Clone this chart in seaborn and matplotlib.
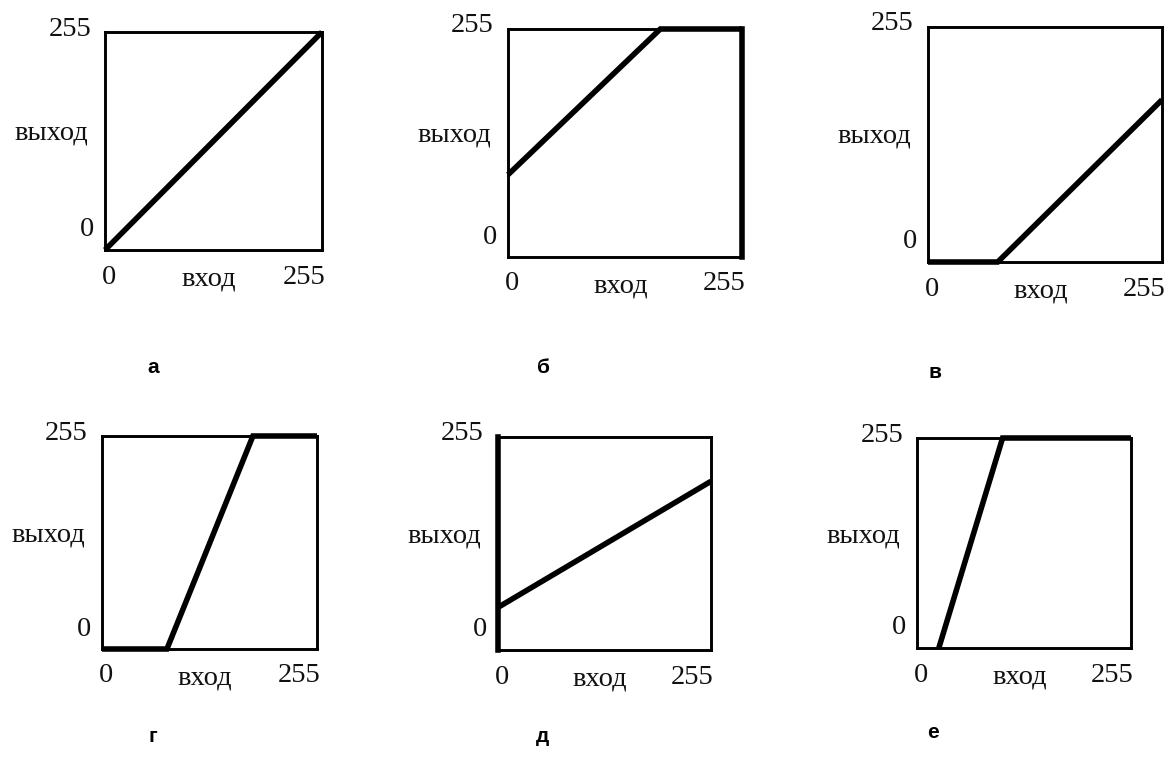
import matplotlib
matplotlib.use("Agg")
import matplotlib.pyplot as plt
import matplotlib.transforms as mtransforms
import seaborn as sns

# Panel captions
panel_labels = ["а", "б", "в", "г", "д", "е"]

# Brightness transfer curves: input level -> output level
curve_x = [
    [0, 255],
    [0, 166, 255],
    [0, 76, 255],
    [0, 77, 179, 255],
    [0, 255],
    [26, 102, 255],
]
curve_y = [
    [0, 255],
    [92, 255, 255],
    [0, 0, 176],
    [0, 0, 255, 255],
    [51, 202],
    [0, 255, 255],
]

# Axis captions and limit labels
axis_min_label = "0"
axis_max_label = "255"
x_caption = "вход"
y_caption = "выход"
axis_limits = (0, 255)

sns.set_theme(style="white")
plt.rcParams["font.family"] = ["Liberation Serif", "DejaVu Serif"]

W, H = 1170, 770
fig = plt.figure(figsize=(W / 100, H / 100), dpi=100)

# Box of each panel in pixels: left, top, right, bottom
boxes = [
    (105, 32, 322, 250),
    (508, 29, 742, 257),
    (928, 27, 1162, 262),
    (102, 436, 317, 649),
    (498, 437, 711, 650),
    (917, 438, 1131, 648),
]
letter_pos = [(153, 368), (543, 368), (935, 373), (153, 736), (543, 736), (933, 733)]

num_size = 20.5
cap_size = 20.5
curve_lw = 4.0
frame_lw = 2.1
ink = "#111111"


def shifted(ax, dx, dy):
    return mtransforms.offset_copy(ax.transAxes, fig=fig, x=dx, y=dy, units="dots")


for i, (l, t, r, b) in enumerate(boxes):
    ax = fig.add_axes([l / W, 1 - b / H, (r - l) / W, (b - t) / H])
    sns.lineplot(x=curve_x[i], y=curve_y[i], ax=ax, color="black",
                 linewidth=curve_lw, sort=False)
    for line in ax.lines:
        line.set_clip_on(False)
        line.set_solid_capstyle("butt")
        line.set_solid_joinstyle("miter")
    ax.set_xlim(*axis_limits)
    ax.set_ylim(*axis_limits)
    ax.set_xticks([])
    ax.set_yticks([])
    ax.set_xlabel("")
    ax.set_ylabel("")
    ax.set_facecolor("white")
    for sp in ax.spines.values():
        sp.set_visible(True)
        sp.set_color("black")
        sp.set_linewidth(frame_lw)
    if i == 1:
        ax.spines["right"].set_linewidth(curve_lw)
    if i == 4:
        ax.spines["left"].set_linewidth(curve_lw)

    ax.text(0, 1, axis_max_label, transform=shifted(ax, -14, 3),
            ha="right", va="center", fontsize=num_size, color=ink)
    ax.text(0, 0.54, y_caption, transform=shifted(ax, -17, -1),
            ha="right", va="center", fontsize=cap_size, color=ink)
    ax.text(0, 0, axis_min_label, transform=shifted(ax, -11, 20),
            ha="right", va="center", fontsize=num_size, color=ink)
    ax.text(0, 0, axis_min_label, transform=shifted(ax, -3, -27),
            ha="left", va="center", fontsize=num_size, color=ink)
    ax.text(0.48, 0, x_caption, transform=shifted(ax, 0, -29),
            ha="center", va="center", fontsize=cap_size, color=ink)
    ax.text(1, 0, axis_max_label, transform=shifted(ax, 3, -27),
            ha="right", va="center", fontsize=num_size, color=ink)

    lx, ly = letter_pos[i]
    fig.text(lx / W, 1 - ly / H, panel_labels[i], family="Liberation Sans",
             fontweight="bold", fontsize=15, ha="center", va="center", color="black")

fig.savefig("out.png", dpi=100, facecolor="white")
